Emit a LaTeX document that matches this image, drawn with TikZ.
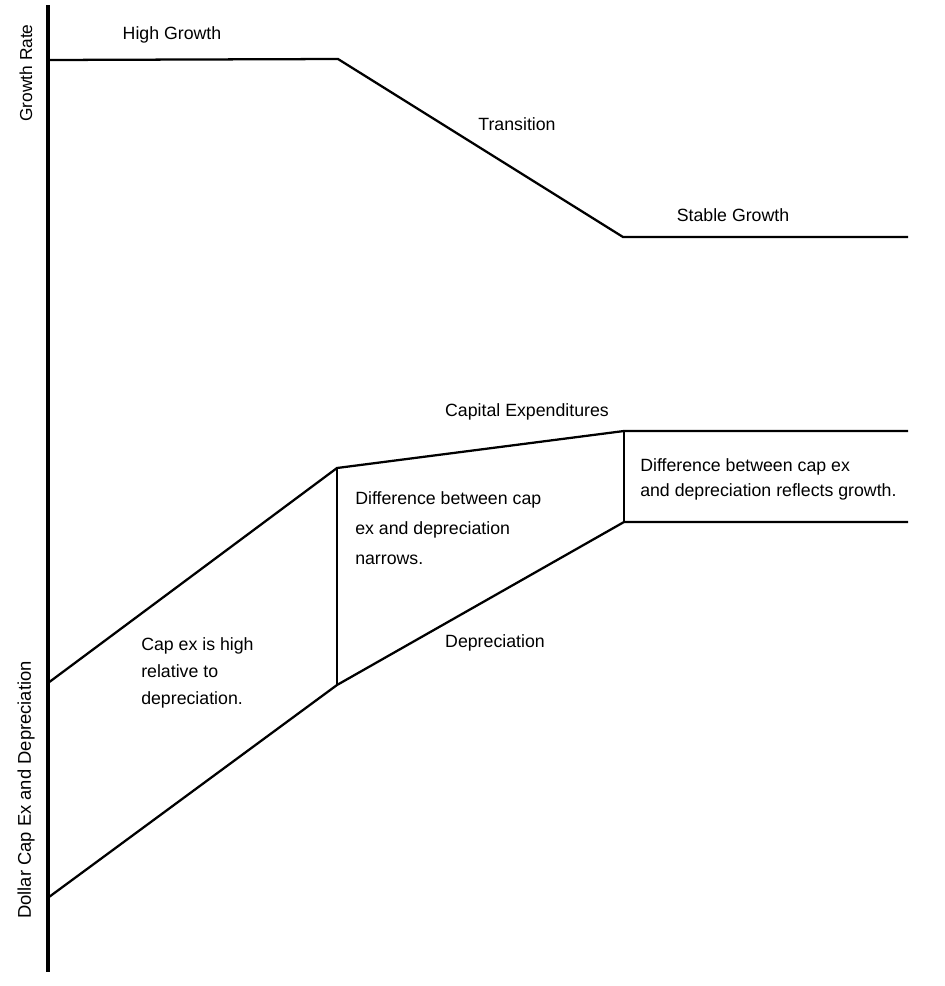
\documentclass[tikz,border=0pt]{standalone}
\usepackage{fontspec}
\setmainfont{Liberation Sans}
\usepackage{tikz}
\usetikzlibrary{positioning}

\begin{document}
\begin{tikzpicture}[x=0.75pt,y=-0.75pt,
  axisline/.style={line width=2.3pt},
  curve/.style={line width=1.7pt,line join=miter},
  lbl/.style={font=\fontsize{13.3}{16}\selectfont,inner sep=0pt},
  note/.style={lbl,align=left,anchor=north west}]
  \useasboundingbox (0,0) rectangle (945,986);
  % axis
  \coordinate (top) at (48,5);
  \coordinate (bot) at (48,972);
  \draw[axisline] (top) -- (bot);
  \node[lbl,rotate=90,font=\fontsize{13}{16}\selectfont] (grlbl) at (26,73) {Growth Rate};
  \node[lbl,rotate=90,font=\fontsize{13.8}{16}\selectfont] (dollbl) at (26,790) {Dollar Cap Ex and Depreciation};
  % growth rate
  \coordinate (g0) at (48,60);
  \coordinate (g1) at (338,59);
  \coordinate (g2) at (623,237);
  \coordinate (g3) at (908,237);
  \draw[curve] (g0) -- (g1) -- (g2) -- (g3);
  \node[lbl] (high) at (172,35) {High Growth};
  \node[lbl] (trans) at (517,124) {Transition};
  \node[lbl] (stable) at (733,215) {Stable Growth};
  % cap ex and depreciation
  \coordinate (c0) at (48,683);
  \coordinate (c1) at (337,468);
  \coordinate (c2) at (624,431);
  \coordinate (c3) at (908,431);
  \coordinate (d0) at (49,897);
  \coordinate (d1) at (337,685);
  \coordinate (d2) at (624,522);
  \coordinate (d3) at (908,522);
  \draw[curve] (c0) -- (c1) -- (c2) -- (c3);
  \draw[curve] (d0) -- (d1) -- (d2) -- (d3);
  \draw[curve] (c1) -- (d1);
  \draw[curve] (c2) -- (d2);
  \node[lbl] (capex) at (527,412) {Capital Expenditures};
  \node[lbl] (depr) at (495,643) {Depreciation};
  \node[note,font=\fontsize{13.3}{20.5}\selectfont] (high2) at (141,637) {Cap ex is high\\relative to\\depreciation.};
  \node[note,font=\fontsize{13.3}{22.5}\selectfont] (narrow) at (355,491) {Difference between cap\\ex and depreciation\\narrows.};
  \node[note,font=\fontsize{13.3}{18.8}\selectfont] (reflect) at (640,458) {Difference between cap ex\\and depreciation reflects growth.};
\end{tikzpicture}
\end{document}
